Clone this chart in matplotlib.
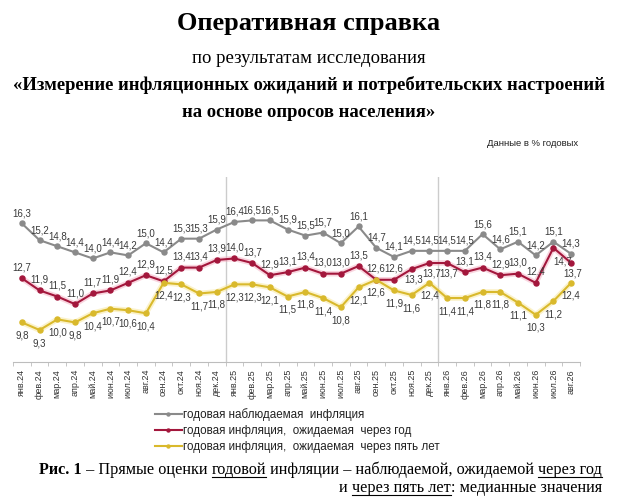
import numpy as np
import matplotlib
matplotlib.use("Agg")
import matplotlib.pyplot as plt
from matplotlib.lines import Line2D

months = ["янв.24", "фев.24", "мар.24", "апр.24", "май.24", "июн.24", "июл.24", "авг.24",
          "сен.24", "окт.24", "ноя.24", "дек.24",
          "янв.25", "фев.25", "мар.25", "апр.25", "май.25", "июн.25", "июл.25", "авг.25",
          "сен.25", "окт.25", "ноя.25", "дек.25",
          "янв.26", "фев.26", "мар.26", "апр.26", "май.26", "июн.26", "июл.26", "авг.26"]

observed = [16.3, 15.2, 14.8, 14.4, 14.0, 14.4, 14.2, 15.0, 14.4, 15.3, 15.3, 15.9,
            16.4, 16.5, 16.5, 15.9, 15.5, 15.7, 15.0, 16.1, 14.7, 14.1, 14.5, 14.5,
            14.5, 14.5, 15.6, 14.6, 15.1, 14.2, 15.1, 14.3]
one_year = [12.7, 11.9, 11.5, 11.0, 11.7, 11.9, 12.4, 12.9, 12.5, 13.4, 13.4, 13.9,
            14.0, 13.7, 12.9, 13.1, 13.4, 13.0, 13.0, 13.5, 12.6, 12.6, 13.3, 13.7,
            13.7, 13.1, 13.4, 12.9, 13.0, 12.4, 14.7, 13.7]
five_years = [9.8, 9.3, 10.0, 9.8, 10.4, 10.7, 10.6, 10.4, 12.4, 12.3, 11.7, 11.8,
              12.3, 12.3, 12.1, 11.5, 11.8, 11.4, 10.8, 12.1, 12.6, 11.9, 11.6, 12.4,
              11.4, 11.4, 11.8, 11.8, 11.1, 10.3, 11.2, 12.4]

legend_labels = ["годовая наблюдаемая  инфляция",
                 "годовая инфляция,  ожидаемая  через год",
                 "годовая инфляция,  ожидаемая  через пять лет"]

# red labels that sit under the point
red_below = {22, 23, 24, 30, 31}

W, H = 617, 498
fig = plt.figure(figsize=(W / 100, H / 100), dpi=100)

serif = "Liberation Serif"
sans = "Liberation Sans"

def fx(px):
    return px / W

def fy(py):
    return 1 - py / H

# header
fig.text(0.5, fy(30), "Оперативная справка", ha="center", va="baseline",
         family=serif, weight="bold", fontsize=19)
fig.text(0.5, fy(63), "по результатам исследования", ha="center", va="baseline",
         family=serif, fontsize=13.5)
fig.text(0.5, fy(90), "«Измерение инфляционных ожиданий и потребительских настроений",
         ha="center", va="baseline", family=serif, weight="bold", fontsize=13.4)
fig.text(0.5, fy(117), "на основе опросов населения»", ha="center", va="baseline",
         family=serif, weight="bold", fontsize=13.4)
fig.text(fx(578), fy(143), "Данные в % годовых", ha="right", va="center",
         family=sans, fontsize=6.8, color="#222222")

# chart
ax = fig.add_axes([fx(13), fy(362), fx(580) - fx(13), fy(177) - fy(362)])
x = np.arange(len(months))

gray = "#8a8a8a"
red = "#a3173c"
yellow = "#d9b92c"

ax.plot(x, one_year, color="#f3a3b8", lw=4.0, alpha=0.45, solid_capstyle="round")
ax.plot(x, five_years, color="#f7e38a", lw=4.0, alpha=0.45, solid_capstyle="round")
ax.plot(x, observed, color=gray, lw=1.5, marker="o", ms=3.6, label=legend_labels[0])
ax.plot(x, one_year, color=red, lw=1.5, marker="o", ms=3.6, label=legend_labels[1])
ax.plot(x, five_years, color=yellow, lw=1.5, marker="o", ms=3.6, label=legend_labels[2])

for xv in (11.5, 23.5):
    ax.axvline(xv, color="#cccccc", lw=1.0, zorder=0)

lab_kw = dict(fontsize=7, color="#3a3a3a", family=sans, ha="center", va="center")
for i, v in enumerate(observed):
    ax.annotate(f"{v:.1f}".replace(".", ","), (i, v), xytext=(0, 10),
                textcoords="offset pixels", **lab_kw)
for i, v in enumerate(one_year):
    if i in red_below:
        dx, dy = (9, -14) if i == 30 else (2, -10)
    else:
        dx, dy = 0, 11
    ax.annotate(f"{v:.1f}".replace(".", ","), (i, v), xytext=(dx, dy),
                textcoords="offset pixels", **lab_kw)
for i, v in enumerate(five_years):
    ax.annotate(f"{v:.1f}".replace(".", ","), (i, v), xytext=(0, -13),
                textcoords="offset pixels", **lab_kw)

ax.set_xlim(-0.5, len(months) - 0.5)
ax.set_ylim(7.2, 19.35)
ax.set_yticks([])
for s in ("top", "right", "left"):
    ax.spines[s].set_visible(False)
ax.spines["bottom"].set_color("#bdbdbd")
ax.set_xticks(x)
ax.set_xticklabels(months, rotation=90, fontsize=6.5, family=sans, color="#333333")
ax.tick_params(axis="x", which="major", length=0, pad=5)
ax.set_xticks(np.arange(-0.5, len(months)), minor=True)
ax.tick_params(axis="x", which="minor", length=3, color="#bdbdbd")

handles, labels = ax.get_legend_handles_labels()
fig.legend(handles, labels, loc="upper left", bbox_to_anchor=(fx(150), fy(403)),
           frameon=False, prop={"family": sans, "size": 8.4}, handlelength=2.3,
           handletextpad=0.15, labelspacing=0.35, borderaxespad=0, markerscale=0.6)
for t in fig.legends[0].get_texts():
    t.set_color("#222222")

# caption with underlined words, right-aligned
fig.canvas.draw()
rend = fig.canvas.get_renderer()

def runs_line(runs, x_right, ybase, size=11.7):
    items = []
    for txt, bold, under in runs:
        t = fig.text(0, fy(ybase), txt, ha="left", va="baseline", family=serif,
                     weight="bold" if bold else "normal", fontsize=size)
        items.append((t, t.get_window_extent(renderer=rend).width, under))
    xp = x_right - sum(w for _, w, _ in items)
    for t, w, under in items:
        t.set_x(fx(xp))
        if under:
            fig.add_artist(Line2D([fx(xp), fx(xp + w)], [fy(ybase + 2.5)] * 2,
                                  color="black", lw=0.8))
        xp += w

runs_line([("Рис. 1", True, False), (" – Прямые оценки ", False, False),
           ("годовой", False, True), (" инфляции – наблюдаемой, ожидаемой ", False, False),
           ("через год", False, True)], 602, 474)
runs_line([("и ", False, False), ("через пять лет", False, True),
           (": медианные значения", False, False)], 602, 492)

fig.savefig("out.png", dpi=100)
